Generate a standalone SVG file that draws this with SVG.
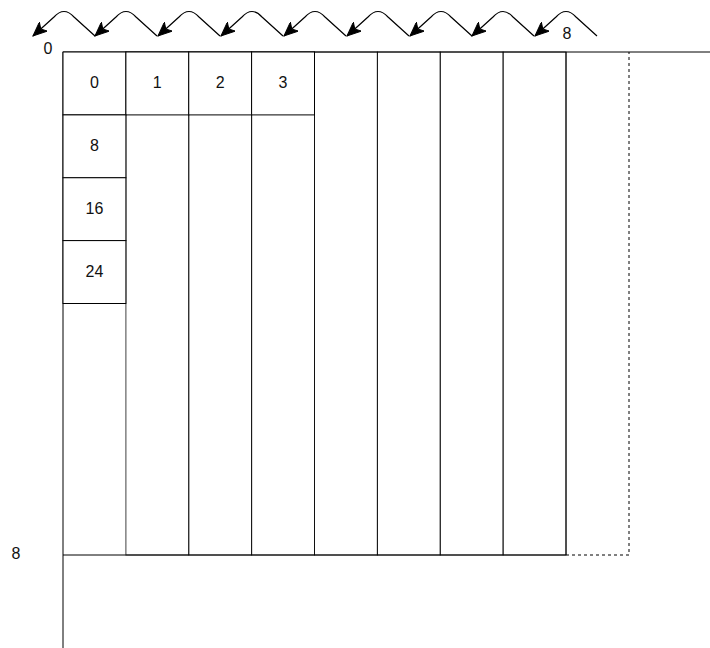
<svg xmlns="http://www.w3.org/2000/svg" width="710" height="648" viewBox="0 0 710 648">
<style>
.ln{stroke:#000;stroke-width:1;fill:none}
.col{stroke:#000;stroke-width:1;fill:none;stroke-opacity:0.75}
.cell{stroke:#000;stroke-width:1;fill:#fff}
.dash{stroke:#000;stroke-width:1;fill:none;stroke-dasharray:3 3}
.arc{stroke:#000;stroke-width:1.2;fill:none;marker-end:url(#ah)}
text{font-family:"Liberation Sans",Arial,sans-serif;font-size:16px;fill:#111;text-anchor:middle;dominant-baseline:central}
</style>
<defs>
<marker id="ah" markerUnits="userSpaceOnUse" markerWidth="15" markerHeight="12" viewBox="0 0 15 12" refX="14" refY="6" orient="auto">
<path d="M0,0 L14,6 L0,12 L3.5,6 Z" fill="#000" stroke="#000" stroke-width="1"/>
</marker>
</defs>
<rect width="710" height="648" fill="#fff"/>
<g id="columns">
<rect class="col" x="125.9" y="52" width="62.85" height="503"/>
<rect class="col" x="188.75" y="52" width="62.85" height="503"/>
<rect class="col" x="251.6" y="52" width="62.9" height="503"/>
<rect class="col" x="314.5" y="52" width="62.9" height="503"/>
<rect class="col" x="377.4" y="52" width="62.85" height="503"/>
<rect class="col" x="440.25" y="52" width="62.85" height="503"/>
<rect class="col" x="503.1" y="52" width="62.9" height="503"/>
</g>
<g id="frame">
<line class="ln" x1="63" y1="52" x2="710" y2="52"/>
<line class="ln" x1="63" y1="52" x2="63" y2="648"/>
<line class="ln" x1="63" y1="555" x2="566" y2="555"/>
<line class="ln" x1="566" y1="52" x2="566" y2="555"/>
<path class="dash" d="M566,555 H629 V52"/>
</g>
<g id="cell-0"><rect class="cell" x="63" y="52" width="62.9" height="62.9"/><text x="94.5" y="82.5">0</text></g>
<g id="cell-1"><rect class="cell" x="125.9" y="52" width="62.85" height="62.9"/><text x="157.3" y="82.5">1</text></g>
<g id="cell-2"><rect class="cell" x="188.75" y="52" width="62.85" height="62.9"/><text x="220.2" y="82.5">2</text></g>
<g id="cell-3"><rect class="cell" x="251.6" y="52" width="62.9" height="62.9"/><text x="283" y="82.5">3</text></g>
<g id="cell-8"><rect class="cell" x="63" y="114.9" width="62.9" height="62.85"/><text x="94.5" y="145.3">8</text></g>
<g id="cell-16"><rect class="cell" x="63" y="177.75" width="62.9" height="62.85"/><text x="94.5" y="208.2">16</text></g>
<g id="cell-24"><rect class="cell" x="63" y="240.6" width="62.9" height="62.9"/><text x="94.5" y="271">24</text></g>
<g id="labels">
<text x="48" y="48.5">0</text>
<text x="16" y="553">8</text>
<text x="567" y="33">8</text>
</g>
<g id="connectors">
<path class="arc" d="M597,36 L576,17 Q566,6 556,17 L535,36"/>
<path class="arc" d="M534,36 L513,17 Q503,6 493,17 L472,36"/>
<path class="arc" d="M472,36 L451,17 Q441,6 431,17 L410,36"/>
<path class="arc" d="M409,36 L388,17 Q378,6 368,17 L347,36"/>
<path class="arc" d="M346,36 L325,17 Q315,6 305,17 L284,36"/>
<path class="arc" d="M283,36 L262,17 Q252,6 242,17 L221,36"/>
<path class="arc" d="M220,36 L199,17 Q189,6 179,17 L158,36"/>
<path class="arc" d="M157,36 L136,17 Q126,6 116,17 L95,36"/>
<path class="arc" d="M95,36 L74,17 Q64,6 54,17 L33,36"/>
</g>
</svg>
